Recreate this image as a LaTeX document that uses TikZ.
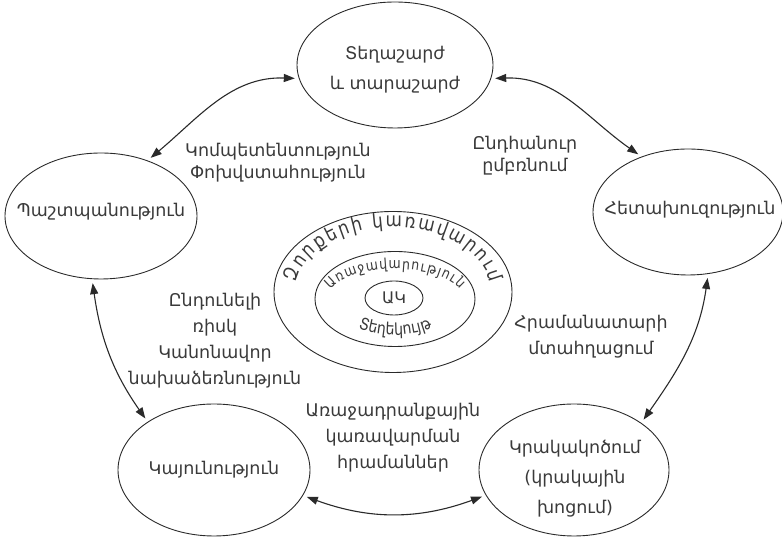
\documentclass[tikz,border=0pt]{standalone}
\usepackage{fontspec}
\newfontfamily\armfont{DejaVu Sans}
\newfontfamily\armcond[FakeStretch=0.86]{DejaVu Sans}
\usetikzlibrary{shapes.geometric,arrows.meta,decorations.text}
\definecolor{ink}{HTML}{2A2A2A}
\definecolor{txt}{HTML}{3A3A3A}
\begin{document}
\begin{tikzpicture}[x=1pt,y=1pt,
  oval/.style={ellipse, draw=ink, line width=0.9pt, inner sep=0pt},
  lbl/.style={align=center, text=txt, inner sep=0pt},
  fA/.style={font=\armfont\fontsize{17.5}{30}\selectfont},
  fB/.style={font=\armfont\fontsize{17.5}{22}\selectfont},
  fC/.style={font=\armfont\fontsize{17.5}{26}\selectfont},
  link/.style={draw=ink, line width=1.1pt, {Triangle[length=11pt,width=8pt]}-{Triangle[length=11pt,width=8pt]}, shorten <=4pt, shorten >=4pt}
]
\useasboundingbox (0,0) rectangle (782,537);
% main ellipses
\node[oval, minimum width=196, minimum height=126] (top) at (395,472) {};
\node[oval, minimum width=192, minimum height=126] (lft) at (101,321) {};
\node[oval, minimum width=190, minimum height=126] (rgt) at (688,325) {};
\node[oval, minimum width=192, minimum height=132] (bl) at (214,67) {};
\node[oval, minimum width=190, minimum height=132] (br) at (574,67) {};
% central ellipses
\node[oval, minimum width=238, minimum height=161] (outer) at (393,245) {};
\node[oval, minimum width=160, minimum height=95] (mid) at (395,238) {};
\node[oval, minimum width=58, minimum height=34] (inner) at (394,239) {};
% texts in ellipses
\node[lbl, fA] (topT) at (395,467) {Տեղաշարժ\\և տարաշարժ};
\node[lbl, fA] (lftT) at (101,325) {Պաշտպանություն};
\node[lbl, fA] (rgtT) at (690,327) {Հետախուզություն};
\node[lbl, fA] (blT) at (214,67) {Կայունություն};
\node[lbl, fA] (brT) at (575,58) {Կրակակոծում\\(կրակային\\խոցում)};
\node[lbl, font=\armfont\fontsize{16}{16}\selectfont] (innerT) at (394,239) {ԱԿ};
% free labels
\node[lbl, fB] (kT) at (278,374) {Կոմպետենտություն\\Փոխվստահություն};
\node[lbl, fB] (eT) at (525,381) {Ընդհանուր\\ըմբռնում};
\node[lbl, fC] (rT) at (215,196) {Ընդունելի\\ռիսկ\\Կանոնավոր\\նախաձեռնություն};
\node[lbl, fC] (hT) at (591,200) {Հրամանատարի\\մտահղացում};
\node[lbl, fC] (aT) at (393,99) {Առաջադրանքային\\կառավարման\\հրամաններ};
% curved texts
\path[decorate, decoration={text along path, text align={fit to path},
  text={|\armcond\fontsize{19.5}{19.5}\selectfont\color{txt}|Զորքերի կառավարում}}]
  (outer.center) ++(172:98 and 65) arc[start angle=172, end angle=8, x radius=98, y radius=65];
\path[decorate, decoration={text along path, text align={fit to path},
  text={|\armcond\fontsize{14.5}{14.5}\selectfont\color{txt}|Առաջավարություն}}]
  (mid.center) ++(162:68 and 30) arc[start angle=162, end angle=18, x radius=68, y radius=30];
\path[decorate, decoration={text along path, text align=center,
  text={|\armcond\fontsize{16.5}{16.5}\selectfont\color{txt}|Տեղեկույթ}}]
  (mid.center) ++(205:64 and 36) arc[start angle=205, end angle=335, x radius=64, y radius=36];
% connectors
\draw[link] (lft.50) to[out=40, in=178] (top.188);
\draw[link] (top.-8) to[out=2, in=145] (rgt.130);
\draw[link] (lft.262) to[out=-82, in=125] (bl.144);
\draw[link] (rgt.-72) to[out=-98, in=55] (br.35);
\draw[link] (bl.-16) to[out=-20, in=200] (br.196);
\end{tikzpicture}
\end{document}
